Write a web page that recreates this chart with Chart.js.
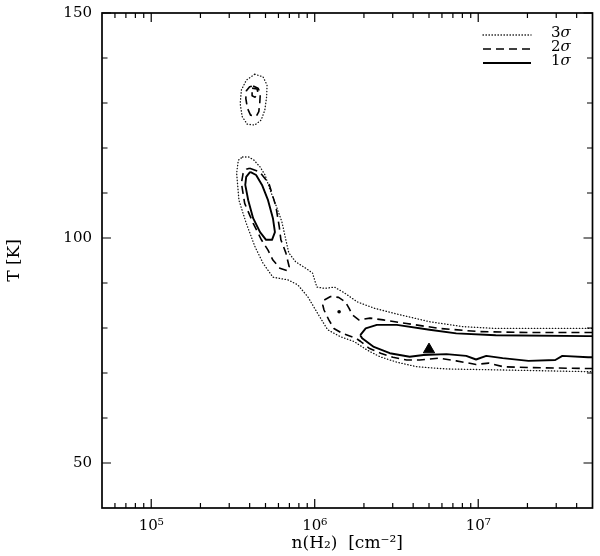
<!DOCTYPE html>
<html><head><meta charset="utf-8">
<script src="https://cdn.jsdelivr.net/npm/chart.js@4/dist/chart.umd.min.js"></script>
<style>html,body{margin:0;padding:0;background:#fff}</style>
</head><body>
<canvas id="c" width="600" height="556"></canvas>
<script>
// ---------- data ----------
const legendLabels = ['3σ', '2σ', '1σ'];
const xTickValues = [1e5, 1e6, 1e7];
const xMinorTickValues = [6e4,7e4,8e4,9e4,2e5,3e5,4e5,5e5,6e5,7e5,8e5,9e5,2e6,3e6,4e6,5e6,6e6,7e6,8e6,9e6,2e7,3e7,4e7];
const yTickValues = [50, 100, 150];
const yMinorTickValues = [60,70,80,90,110,120,130,140];

// 3 sigma contours (n in cm^-2, T in K)
const s3TopN = [4.30e5,4.83e5,5.11e5,5.08e5,4.95e5,4.70e5,4.30e5,3.86e5,3.60e5,3.50e5,3.56e5,3.82e5,4.30e5];
const s3TopT = [136.4,135.8,134.0,131.4,128.4,126.2,125.1,125.3,127.0,129.9,132.9,135.1,136.4];
const s3MainN = [3.62e5,3.95e5,4.25e5,4.63e5,4.97e5,5.33e5,5.79e5,6.30e5,6.66e5,6.94e5,7.65e5,8.80e5,9.70e5,9.98e5,1.03e6,1.15e6,1.32e6,1.52e6,1.82e6,2.31e6,3.18e6,5.04e6,8.09e6,1.28e7,4.70e7,6e7,
                 6e7,4.70e7,1.28e7,6.39e6,4.20e6,3.18e6,2.51e6,2.09e6,1.74e6,1.43e6,1.20e6,1.04e6,9.05e5,7.87e5,6.85e5,5.55e5,4.83e5,4.32e5,3.81e5,3.44e5,3.33e5,3.41e5,3.62e5];
const s3MainT = [118.0,118.0,117.3,115.8,114.0,110.7,107.3,103.6,99.6,96.7,94.7,93.3,92.2,90.7,89.1,88.8,89.1,87.8,85.8,84.4,83.1,81.4,80.3,79.9,79.9,79.9,
                 70.3,70.3,70.7,70.9,71.4,72.4,73.6,75.1,77.0,78.1,79.6,83.3,87.0,89.6,90.7,91.3,94.4,98.0,103.3,108.4,114.4,117.3,118.0];

// 2 sigma contours
const s2TopN = [4.20e5,4.50e5,4.65e5,4.61e5,4.55e5,4.40e5,4.05e5,3.88e5,3.79e5,3.82e5,4.00e5,4.20e5];
const s2TopT = [133.8,133.3,132.2,129.9,128.1,127.1,127.3,128.8,131.0,132.7,133.6,133.8];
const s2TopInnerN = [4.14e5,4.44e5,4.50e5,4.32e5,4.14e5,4.14e5];
const s2TopInnerT = [133.3,133.1,132.2,131.3,131.6,133.3];
const s2BigN = [4.00e5,4.61e5,5.25e5,5.79e5,6.07e5,6.21e5,6.66e5,6.98e5,6.85e5,6.12e5,5.55e5,5.18e5,4.72e5,4.20e5,3.73e5,3.56e5,3.65e5,3.82e5,4.00e5];
const s2BigT = [115.5,114.7,112.1,107.0,102.5,99.6,96.7,93.6,92.7,93.3,95.1,97.3,99.6,103.3,107.7,112.2,114.4,115.3,115.5];
const s2BandN = [6e7,4.70e7,2.03e7,1.01e7,5.79e6,3.65e6,2.62e6,2.18e6,1.86e6,1.70e6,1.62e6,1.54e6,1.40e6,1.25e6,1.14e6,1.12e6,1.14e6,1.22e6,1.31e6,1.475e6,1.79e6,1.91e6,2.15e6,2.53e6,3.01e6,3.65e6,4.38e6,5.79e6,7.34e6,9.70e6,1.16e7,1.42e7,2.03e7,4.70e7,6e7];
const s2BandT = [79.0,79.0,79.0,79.2,79.9,81.0,81.8,82.2,81.8,82.9,84.4,85.8,86.8,87.0,86.2,85.1,84.0,81.8,79.9,78.8,77.7,77.0,75.5,74.4,73.5,72.9,72.9,73.3,72.7,71.9,72.2,71.4,71.2,71.0,71.0];

// 1 sigma contours
const s1BigN = [4.03e5,4.38e5,4.76e5,5.18e5,5.55e5,5.71e5,5.48e5,5.04e5,4.63e5,4.20e5,3.92e5,3.76e5,3.81e5,4.03e5];
const s1BigT = [114.7,114.0,111.8,108.4,104.4,101.3,99.6,99.6,101.3,104.4,108.4,111.8,113.6,114.7];
const s1BandN = [1.90e6,2.05e6,2.40e6,3.18e6,5.04e6,7.34e6,1.28e7,4.70e7,6e7,6e7,4.70e7,3.27e7,2.96e7,2.03e7,1.41e7,1.12e7,9.70e6,8.44e6,6.39e6,4.63e6,3.81e6,2.88e6,2.30e6,1.95e6,1.90e6];
const s1BandT = [78.4,79.9,80.7,80.7,79.6,78.8,78.4,78.2,78.2,73.5,73.5,73.8,72.9,72.7,73.3,73.8,73.0,73.8,74.2,74.0,73.6,74.4,75.8,77.7,78.4];
const s1DotN = [1.41e6];
const s1DotT = [83.6];

// best-fit marker
const bestN = [5.0e6];
const bestT = [75.2];

// ---------- chart ----------
const pts = (N, T) => N.map((n, i) => ({x: n, y: T[i]}));
const sigmaStyle = {
  3: {borderDash:[0.4,2.6], borderWidth:1.3, borderCapStyle:'round', borderColor:'#111'},
  2: {borderDash:[8,5], borderWidth:1.6, borderCapStyle:'butt', borderColor:'#000'},
  1: {borderDash:[], borderWidth:1.9, borderCapStyle:'butt', borderColor:'#000'}
};
const contour = (label, N, T, s) => Object.assign({
  label, data: pts(N, T), showLine: true, pointRadius: 0, pointHoverRadius: 0,
  fill: false, tension: 0, borderJoinStyle: 'round'
}, sigmaStyle[s]);

const datasets = [
  contour('3σ', s3TopN, s3TopT, 3),
  contour('3σ', s3MainN, s3MainT, 3),
  contour('2σ', s2TopN, s2TopT, 2),
  contour('2σ', s2TopInnerN, s2TopInnerT, 2),
  contour('2σ', s2BigN, s2BigT, 2),
  contour('2σ', s2BandN, s2BandT, 2),
  contour('1σ', s1BigN, s1BigT, 1),
  contour('1σ', s1BandN, s1BandT, 1),
  {label:'1σ', data: pts(s1DotN, s1DotT), showLine:false, pointRadius:1.8, pointStyle:'circle', backgroundColor:'#000', borderColor:'#000', borderWidth:0},
  {label:'best', data: pts(bestN, bestT), showLine:false, pointRadius:6.5, pointStyle:'triangle', backgroundColor:'#000', borderColor:'#000', borderWidth:1}
];

const sup = {'0':'⁰','1':'¹','2':'²','3':'³','4':'⁴','5':'⁵','6':'⁶','7':'⁷','8':'⁸','9':'⁹','-':'⁻'};
const serif = '"DejaVu Serif", serif';

const framePlugin = {
  id: 'frameTicks',
  afterDatasetsDraw(chart) {
    const {ctx, chartArea: a, scales: {x, y}} = chart;
    ctx.save();
    ctx.strokeStyle = '#000';
    ctx.setLineDash([]);
    ctx.lineWidth = 1.2;
    const vt = (v, len) => {
      const px = x.getPixelForValue(v);
      ctx.beginPath();
      ctx.moveTo(px, a.bottom); ctx.lineTo(px, a.bottom - len);
      ctx.moveTo(px, a.top); ctx.lineTo(px, a.top + len);
      ctx.stroke();
    };
    const ht = (v, len) => {
      const py = y.getPixelForValue(v);
      ctx.beginPath();
      ctx.moveTo(a.left, py); ctx.lineTo(a.left + len, py);
      ctx.moveTo(a.right, py); ctx.lineTo(a.right - len, py);
      ctx.stroke();
    };
    xMinorTickValues.forEach(v => vt(v, 5));
    xTickValues.forEach(v => vt(v, 9));
    yMinorTickValues.forEach(v => ht(v, 5.5));
    yTickValues.forEach(v => ht(v, 9));
    ctx.lineWidth = 1.7;
    ctx.strokeRect(a.left, a.top, a.right - a.left, a.bottom - a.top);

    // legend
    const order = [3, 2, 1];
    ctx.fillStyle = '#000';
    ctx.textBaseline = 'middle';
    legendLabels.forEach((lab, i) => {
      const st = sigmaStyle[order[i]];
      const ly = a.top + 22 + i * 14;
      ctx.save();
      ctx.lineWidth = st.borderWidth;
      ctx.lineCap = st.borderCapStyle;
      ctx.setLineDash(st.borderDash);
      ctx.strokeStyle = st.borderColor;
      ctx.beginPath();
      ctx.moveTo(483, ly); ctx.lineTo(531, ly);
      ctx.stroke();
      ctx.restore();
      ctx.textAlign = 'left';
      ctx.font = '15px ' + serif;
      const d = lab.slice(0, 1);
      ctx.fillText(d, 551, ly - 1.5);
      const w = ctx.measureText(d).width;
      ctx.font = 'italic 15px ' + serif;
      ctx.fillText(lab.slice(1), 551 + w, ly - 1.5);
    });
    ctx.restore();
  }
};

new Chart(document.getElementById('c'), {
  type: 'scatter',
  data: {datasets},
  plugins: [framePlugin],
  options: {
    responsive: false,
    animation: false,
    devicePixelRatio: 1,
    layout: {padding: {top: 13, right: 3, left: 0, bottom: 0}},
    plugins: {legend: {display: false}, tooltip: {enabled: false}},
    scales: {
      x: {
        type: 'logarithmic', position: 'bottom', min: 5e4, max: 5e7,
        grid: {display: false, drawTicks: false}, border: {display: false},
        afterBuildTicks: s => { s.ticks = xTickValues.map(v => ({value: v, major: true})); },
        afterFit: s => { s.height = 48; s.paddingLeft = 0; s.paddingRight = 0; },
        ticks: {
          autoSkip: false, maxRotation: 0, padding: 9, color: '#000',
          font: {family: serif, size: 15},
          callback: v => '10' + String(Math.round(Math.log10(v))).split('').map(c => sup[c]).join('')
        },
        title: {display: true, text: 'n(H₂)  [cm⁻²]', color: '#000', font: {family: serif, size: 17}, padding: {top: 0, bottom: 2}}
      },
      y: {
        type: 'linear', position: 'left', min: 40, max: 150,
        grid: {display: false, drawTicks: false}, border: {display: false},
        afterBuildTicks: s => { s.ticks = yTickValues.map(v => ({value: v})); },
        afterFit: s => { s.width = 102; s.paddingTop = 0; s.paddingBottom = 0; },
        ticks: {padding: 10, color: '#000', font: {family: serif, size: 15}},
        title: {display: true, text: 'T [K]', color: '#000', font: {family: serif, size: 17}, padding: {top: 4, bottom: 0}}
      }
    }
  }
});
</script>
</body></html>
